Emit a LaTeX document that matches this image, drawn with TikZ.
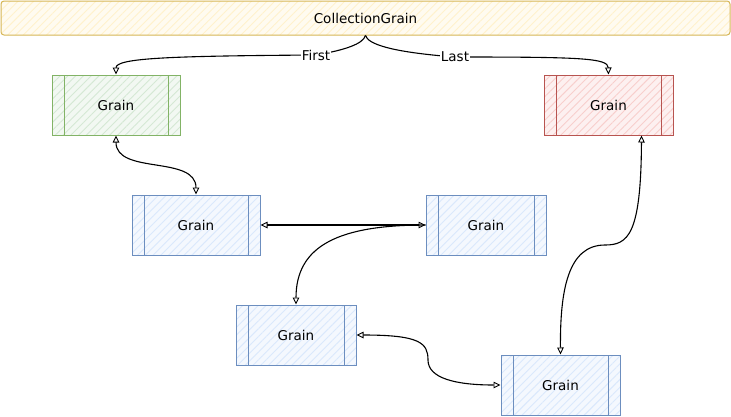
\documentclass[tikz,border=0pt]{standalone}
\usepackage{fontspec}
\setmainfont{DejaVu Sans}
\usetikzlibrary{arrows.meta,patterns.meta}
\definecolor{yelS}{HTML}{D6B656}
\definecolor{yelF}{HTML}{FFF2CC}
\definecolor{grnS}{HTML}{82B366}
\definecolor{grnF}{HTML}{D5E8D4}
\definecolor{redS}{HTML}{B85450}
\definecolor{redF}{HTML}{F8CECC}
\definecolor{bluS}{HTML}{6C8EBF}
\definecolor{bluF}{HTML}{DAE8FC}
\tikzset{
  txt/.style={font=\fontsize{13.5}{16}\selectfont, text=black},
  hatch/.style={preaction={fill=#1!30!white}, pattern={Lines[angle=45,distance=5.5pt,line width=0.9pt]}, pattern color=#1},
  proc/.style={txt, draw=#1S, line width=1pt, hatch=#1F, minimum height=60pt, inner sep=0pt,
    path picture={\draw[#1S, line width=1pt]
      ([xshift=12pt]path picture bounding box.north west) -- ([xshift=12pt]path picture bounding box.south west)
      ([xshift=-12pt]path picture bounding box.north east) -- ([xshift=-12pt]path picture bounding box.south east);}},
  conn/.style={line width=1.1pt, black},
  lbl/.style={txt, fill=white, inner sep=1pt},
}
\begin{document}
\begin{tikzpicture}[x=1pt, y=-1pt]
\useasboundingbox (0,0) rectangle (731,416);

\node[txt, draw=yelS, line width=1pt, hatch=yelF, rounded corners=3pt,
      minimum width=729pt, minimum height=34pt, inner sep=0pt] (coll) at (365.5,18) {CollectionGrain};

\node[proc=grn, minimum width=128pt] (g1) at (116,105) {Grain};
\node[proc=red, minimum width=129pt] (r)  at (608.5,105) {Grain};
\node[proc=blu, minimum width=128pt] (b1) at (196,225) {Grain};
\node[proc=blu, minimum width=120pt] (b2) at (486,225) {Grain};
\node[proc=blu, minimum width=120pt] (b3) at (296,335) {Grain};
\node[proc=blu, minimum width=119pt] (b4) at (560.5,385) {Grain};

% from CollectionGrain
\draw[conn, -{Triangle[open, length=7pt, width=6.5pt, line width=0.9pt]}]
  (coll.south) .. controls (363,44) and (345,50) .. (316,55) node[lbl] (lfirst) {First}
  .. controls (170,56) and (116,58) .. (g1.north);
\draw[conn, -{Triangle[open, length=7pt, width=6.5pt, line width=0.9pt]}]
  (coll.south) .. controls (368,44) and (390,52) .. (455,57) node[lbl] (llast) {Last}
  .. controls (580,57) and (608,58) .. (r.north);

% green <-> blue1
\draw[conn, {Triangle[open, length=7pt, width=6.5pt, line width=0.9pt]}-{Triangle[open, length=7pt, width=6.5pt, line width=0.9pt]}]
  (g1.south) .. controls (116,175) and (196,155) .. (b1.north);
% blue1 <-> blue2
\draw[conn, {Triangle[open, length=7pt, width=6.5pt, line width=0.9pt]}-{Triangle[open, length=7pt, width=6.5pt, line width=0.9pt]}]
  (b1.east) -- (b2.west);
% blue2 -> blue3
\draw[conn, -{Triangle[open, length=7pt, width=6.5pt, line width=0.9pt]}]
  (b2.west) .. controls (340,225) and (296,245) .. (b3.north);
% blue3 <-> blue4
\draw[conn, {Triangle[open, length=7pt, width=6.5pt, line width=0.9pt]}-{Triangle[open, length=7pt, width=6.5pt, line width=0.9pt]}]
  (b3.east) .. controls (420,335) and (428,343) .. (428,360)
  .. controls (428,378) and (455,385) .. (b4.west);
% red <-> blue4
\draw[conn, {Triangle[open, length=7pt, width=6.5pt, line width=0.9pt]}-{Triangle[open, length=7pt, width=6.5pt, line width=0.9pt]}]
  ([xshift=-32pt]r.south east) .. controls (641,235) and (628,245) .. (605,245)
  .. controls (568,245) and (560,290) .. (b4.north);
\end{tikzpicture}
\end{document}
